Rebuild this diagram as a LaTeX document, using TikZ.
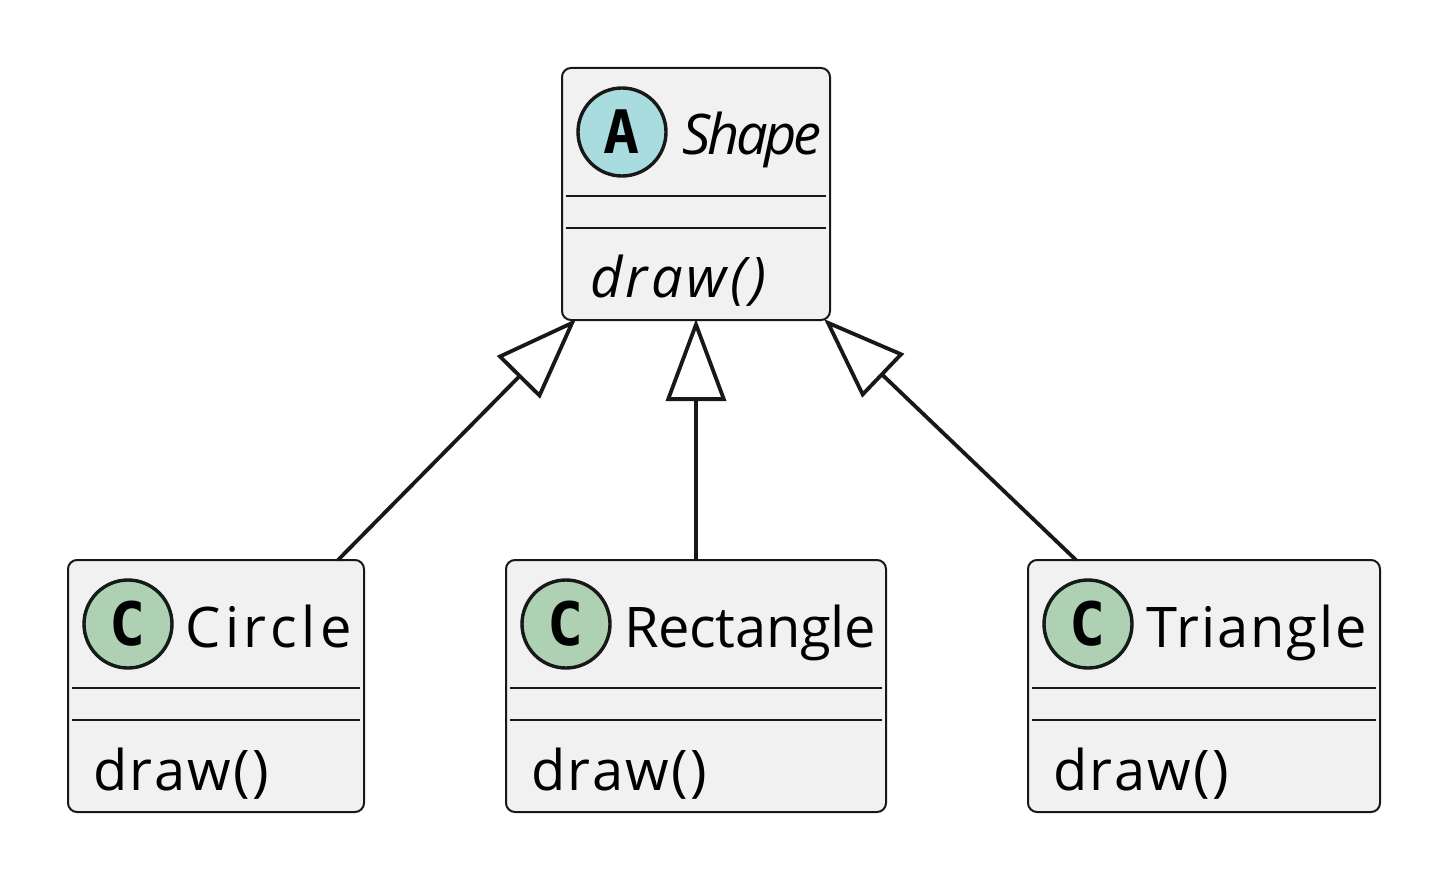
\documentclass[tikz,border=0pt]{standalone}
\usepackage{fontspec}
\setmainfont{Open Sans}
\newfontfamily\iconfont{DejaVu Sans Mono}
\usetikzlibrary{arrows.meta,calc}
\definecolor{ink}{HTML}{181818}
\definecolor{boxfill}{HTML}{F1F1F1}
\definecolor{abstractfill}{HTML}{A9DCDF}
\definecolor{classfill}{HTML}{ADD1B2}
\tikzset{
  x=1pt,y=-1pt,
  classbox/.style={draw=ink,fill=boxfill,line width=2pt,rounded corners=9pt,inner sep=0pt,outer sep=0pt,anchor=north west},
  icon/.style={circle,draw=ink,line width=3.4pt,minimum size=88pt,inner sep=0pt,text=black,font=\iconfont\bfseries\fontsize{60}{60}\selectfont},
  label/.style={anchor=base west,inner sep=0pt,outer sep=0pt,text=black,font=\fontsize{56}{56}\selectfont},
  divider/.style={draw=ink,line width=2pt},
  inherit/.style={draw=ink,line width=3.8pt,{Triangle[open,fill=white,length=82pt,width=60pt,line width=3.8pt]}-},
}
\begin{document}
\begin{tikzpicture}
\useasboundingbox (0,0) rectangle (1452,880);
% boxes
\node[classbox,minimum width=268pt,minimum height=252pt] (shape) at (562,68) {};
\node[classbox,minimum width=296pt,minimum height=252pt] (circle) at (68,560) {};
\node[classbox,minimum width=380pt,minimum height=252pt] (rectangle) at (506,560) {};
\node[classbox,minimum width=352pt,minimum height=252pt] (triangle) at (1028,560) {};
% dividers
\draw[divider] (566,196) -- (826,196) (566,228) -- (826,228);
\draw[divider] (72,688) -- (360,688) (72,720) -- (360,720);
\draw[divider] (510,688) -- (882,688) (510,720) -- (882,720);
\draw[divider] (1032,688) -- (1376,688) (1032,720) -- (1376,720);
% icons
\node[icon,fill=abstractfill] (iconA) at (622,132) {A};
\node[icon,fill=classfill] (iconC1) at (128,624) {C};
\node[icon,fill=classfill] (iconC2) at (566,624) {C};
\node[icon,fill=classfill] (iconC3) at (1088,624) {C};
% labels
\node[label] (shapeName) at (682,155) {\itshape\addfontfeature{LetterSpace=-5.7}Shape};
\node[label] (shapeDraw) at (590,297) {\itshape\addfontfeature{LetterSpace=6.5}draw()};
\node[label] (circleName) at (185,647) {\addfontfeature{LetterSpace=8.5}Circle};
\node[label] (circleDraw) at (93,790) {\addfontfeature{LetterSpace=4.5}draw()};
\node[label] (rectName) at (624,647) {\addfontfeature{LetterSpace=-0.5}Rectangle};
\node[label] (rectDraw) at (531,790) {\addfontfeature{LetterSpace=4.5}draw()};
\node[label] (triName) at (1146,647) {\addfontfeature{LetterSpace=3.6}Triangle};
\node[label] (triDraw) at (1053,790) {\addfontfeature{LetterSpace=4.5}draw()};
% connectors
\draw[inherit] ($(shape.south west)+(14,-1)$) -- ($(circle.north)+(122,0)$);
\draw[inherit] (shape.south) ++(0,-1) -- (rectangle.north);
\draw[inherit] ($(shape.south east)+(-6,-1)$) -- ($(triangle.north)+(-128,0)$);
\end{tikzpicture}
\end{document}
